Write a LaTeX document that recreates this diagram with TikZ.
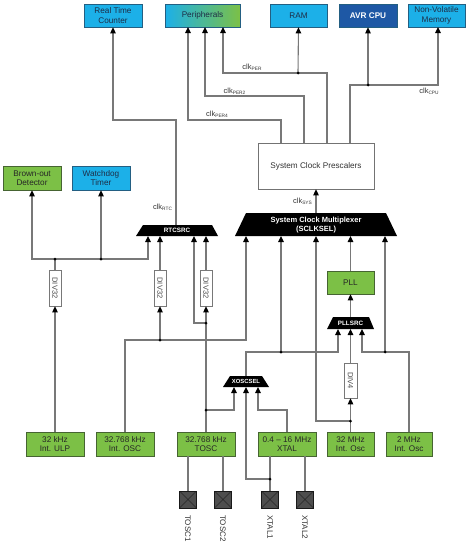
\documentclass[tikz,border=0pt]{standalone}
\usepackage{fontspec}
\setmainfont{Liberation Sans}
\usetikzlibrary{arrows.meta}
\definecolor{cyanF}{RGB}{28,176,232}
\definecolor{cyanB}{RGB}{35,95,130}
\definecolor{cyanT}{RGB}{30,45,70}
\definecolor{greenF}{RGB}{124,192,70}
\definecolor{greenB}{RGB}{70,100,50}
\definecolor{cpuF}{RGB}{30,88,165}
\definecolor{lineG}{RGB}{120,120,120}
\definecolor{pinF}{RGB}{78,78,78}
\newcommand\clkl[1]{clk\raisebox{-1.3pt}{\fontsize{4.8}{5}\selectfont #1}}
\begin{document}
\begin{tikzpicture}[x=1pt,y=-1pt,
  every node/.style={inner sep=0pt},
  cbox/.style={draw=cyanB, fill=cyanF, text=cyanT, line width=0.7pt, font=\fontsize{8.2}{9.5}\selectfont, align=center, minimum height=23pt},
  gbox/.style={draw=greenB, fill=greenF, text=black!85, line width=0.7pt, font=\fontsize{8.2}{9.5}\selectfont, align=center, minimum height=24pt},
  divbox/.style={draw=lineG, fill=white, line width=0.7pt, minimum width=12pt, minimum height=36pt, font=\fontsize{7.5}{8}\selectfont, text=black!70},
  trapf/.style={fill=black},
  traptext/.style={text=white, align=center},
  conn/.style={draw=lineG, line width=1.1pt},
  arr/.style={conn, -{Triangle[length=6pt,width=5.5pt,color=black]}},
  jdot/.style={circle, fill=black, minimum size=3pt},
  pinbox/.style={draw=black!90, fill=pinF, minimum size=17pt, line width=0.7pt,
    path picture={\draw[black!85, line width=0.6pt] (path picture bounding box.north west) -- (path picture bounding box.south east) (path picture bounding box.north east) -- (path picture bounding box.south west);}},
  clab/.style={font=\fontsize{7.5}{8}\selectfont, text=black!80},
  plab/.style={font=\fontsize{8}{9}\selectfont, text=black!80, anchor=north},
]
\useasboundingbox (0,0) rectangle (474,546);

% top row
\node[cbox, minimum width=58pt] (rtc) at (113,15.5) {Real Time\\Counter};
\node[cbox, minimum width=75pt, left color=cyanF, right color=greenF] (per) at (202.5,15.5) {Peripherals};
\node[cbox, minimum width=57pt] (ram) at (298.5,15.5) {RAM};
\node[cbox, minimum width=58pt, fill=cpuF, text=white, font=\bfseries\fontsize{8.2}{9.5}\selectfont] (cpu) at (368,15.5) {AVR CPU};
\node[cbox, minimum width=57pt] (nvm) at (436.5,15.5) {Non-Volatile\\Memory};

% left
\node[gbox, minimum width=58pt] (bod) at (32,178) {Brown-out\\Detector};
\node[cbox, minimum width=58pt, minimum height=24pt] (wdt) at (101,178) {Watchdog\\Timer};

% prescaler, pll
\node[draw=black!55, fill=white, line width=0.7pt, minimum width=116pt, minimum height=46pt, font=\fontsize{8.2}{9.5}\selectfont, text=black!80] (presc) at (316,166) {System Clock Prescalers};
\node[gbox, minimum width=47pt, minimum height=23pt] (pll) at (350.5,282.5) {PLL};

% sources
\node[gbox, minimum width=58pt] (ulp) at (55,444) {32 kHz\\Int. ULP};
\node[gbox, minimum width=58pt] (iosc) at (125,444) {32.768 kHz\\Int. OSC};
\node[gbox, minimum width=58pt] (tosc) at (206,444) {32.768 kHz\\TOSC};
\node[gbox, minimum width=58pt] (xtal) at (287,444) {0.4 – 16 MHz\\XTAL};
\node[gbox, minimum width=47pt] (osc32m) at (350.5,444) {32 MHz\\Int. Osc};
\node[gbox, minimum width=46pt] (osc2m) at (409,444) {2 MHz\\Int. Osc};

% dividers
\node[divbox] (d1) at (55,288) {\rotatebox{-90}{DIV32}};
\node[divbox] (d2) at (160,288) {\rotatebox{-90}{DIV32}};
\node[divbox] (d3) at (206,288) {\rotatebox{-90}{DIV32}};
\node[divbox, minimum width=13pt, minimum height=35pt] (d4) at (350.5,380.5) {\rotatebox{-90}{DIV4}};

% pins
\node[pinbox] (tp1) at (188,499.5) {};
\node[pinbox] (tp2) at (223,499.5) {};
\node[pinbox] (xp1) at (270,499.5) {};
\node[pinbox] (xp2) at (305,499.5) {};
\node[plab] (ltp1) at (188,515) {\rotatebox{-90}{TOSC1}};
\node[plab] (ltp2) at (223,515) {\rotatebox{-90}{TOSC2}};
\node[plab] (lxp1) at (270,515) {\rotatebox{-90}{XTAL1}};
\node[plab] (lxp2) at (305,515) {\rotatebox{-90}{XTAL2}};

% multiplexers
\fill[trapf] (235,236) -- (397,236) -- (386,213) -- (246,213) -- cycle;
\node[traptext, font=\bfseries\fontsize{7.5}{9.5}\selectfont] (mux) at (316,225) {System Clock Multiplexer\\(SCLKSEL)};
\fill[trapf] (136,236) -- (218,236) -- (212,225) -- (143,225) -- cycle;
\node[traptext, font=\bfseries\fontsize{6.3}{7}\selectfont] (rtcsrc) at (177,230.8) {RTCSRC};
\fill[trapf] (327,329) -- (374,329) -- (369,317) -- (333,317) -- cycle;
\node[traptext, font=\bfseries\fontsize{6.3}{7}\selectfont] (pllsrc) at (350.5,323.3) {PLLSRC};
\fill[trapf] (223,387) -- (269,387) -- (262,376) -- (230,376) -- cycle;
\node[traptext, font=\bfseries\fontsize{5.9}{7}\selectfont] (xoscsel) at (246,381.8) {XOSCSEL};

% connection points
\coordinate (muxT) at (316,213);
\coordinate (mi1) at (246,236);
\coordinate (mi2) at (281,236);
\coordinate (mi3) at (316,236);
\coordinate (mi4) at (350.5,236);
\coordinate (mi5) at (385,236);
\coordinate (rtcT) at (176,225);
\coordinate (ri1) at (148,236);
\coordinate (ri2) at (160,236);
\coordinate (ri3) at (194,236);
\coordinate (ri4) at (206,236);
\coordinate (pllT) at (350.5,317);
\coordinate (pi1) at (338,329);
\coordinate (pi2) at (350.5,329);
\coordinate (pi3) at (362,329);
\coordinate (xT) at (246,376);
\coordinate (xi1) at (234,387);
\coordinate (xi2) at (246,387);
\coordinate (xi3) at (258,387);
\coordinate (pA) at (281,143);
\coordinate (pB) at (304,143);
\coordinate (pC) at (327,143);
\coordinate (pD) at (350,143);
\coordinate (perA) at (188,27);
\coordinate (perB) at (205,27);
\coordinate (perC) at (223,27);
\coordinate (nvmIn) at (438,27);
\coordinate (jR) at (298,73);
\coordinate (jC) at (368,85);
\coordinate (jA) at (55,259);
\coordinate (jW) at (101,259);
\coordinate (jI) at (160,340);
\coordinate (jT1) at (206,323);
\coordinate (jT2) at (206,410);
\coordinate (jX) at (281,352);
\coordinate (jP) at (270,479);
\coordinate (jM) at (350.5,421);
\coordinate (j2) at (385,352);

% connectors top
\draw[arr] (rtcT) -- (176,120) -| (rtc.south);
\draw[arr] (pA) -- (281,120) -| (perA);
\draw[arr] (pB) -- (304,96) -| (perB);
\draw[arr] (pC) -- (327,73) -| (perC);
\draw[arr] (jR) -- (ram.south);
\draw[arr] (pD) -- (350,85) -| (nvmIn);
\draw[arr] (jC) -- (cpu.south);
\draw[arr] (muxT) -- (presc.south);

% left
\draw[arr] (ulp.north) -- (d1.south);
\draw[conn] (d1.north) -- (jA);
\draw[arr] (jA) -| (bod.south);
\draw[arr] (jA) -| (ri1);
\draw[arr] (jW) -- (wdt.south);

% int osc 32.768
\draw[arr] (iosc.north) -- (125,340) -| (mi1);
\draw[arr] (jI) -- (d2.south);
\draw[arr] (d2.north) -- (ri2);

% tosc
\draw[arr] (tosc.north) -- (d3.south);
\draw[arr] (jT1) -- (194,323) -- (ri3);
\draw[arr] (d3.north) -- (ri4);
\draw[arr] (jT2) -| (xi1);

% xoscsel
\draw[arr] (xT) -- (246,352) -| (pi1);
\draw[arr] (jX) -- (mi2);
\draw[arr] (xtal.north) -- (287,410) -| (xi3);
\draw[arr] (jP) -- (246,479) -- (xi2);

% pins
\draw[conn] (tp1.north |- tosc.south) -- (tp1.north);
\draw[conn] (tp2.north |- tosc.south) -- (tp2.north);
\draw[conn] (xp1.north |- xtal.south) -- (xp1.north);
\draw[conn] (xp2.north |- xtal.south) -- (xp2.north);

% 32 MHz, 2 MHz, PLL
\draw[arr] (osc32m.north) -- (d4.south);
\draw[arr] (jM) -- (316,421) -- (mi3);
\draw[arr] (d4.north) -- (pi2);
\draw[arr] (osc2m.north) -- (409,352) -| (pi3);
\draw[arr] (j2) -- (mi5);
\draw[arr] (pllT) -- (pll.south);
\draw[arr] (pll.north) -- (mi4);

% junction dots
\foreach \p in {jR,jC,jA,jW,jI,jT1,jT2,jX,jP,jM,j2}
  \node[jdot] at (\p) {};

% labels
\node[clab] (lper) at (252,67) {\clkl{PER}};
\node[clab] (lper2) at (234.5,91.5) {\clkl{PER2}};
\node[clab] (lper4) at (217,114.5) {\clkl{PER4}};
\node[clab] (lcpu) at (429,91.5) {\clkl{CPU}};
\node[clab] (lsys) at (302.5,201.5) {\clkl{SYS}};
\node[clab] (lrtc) at (162.5,207) {\clkl{RTC}};
\end{tikzpicture}
\end{document}
